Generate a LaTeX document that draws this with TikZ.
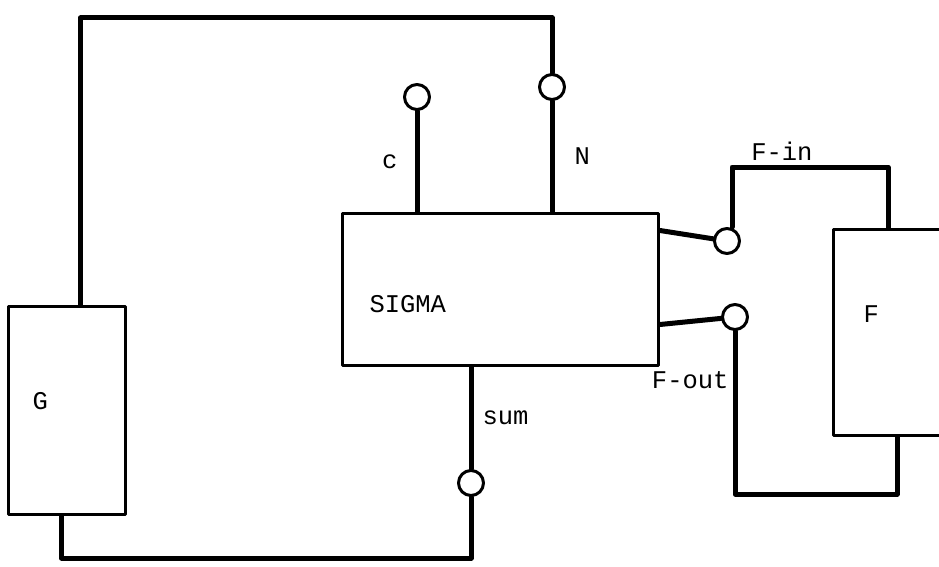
\documentclass[tikz,border=0pt]{standalone}
\usepackage{fontspec}
\setmonofont{Liberation Mono}
\begin{document}
\begin{tikzpicture}[x=1pt, y=-1pt, line join=round, line cap=round, font=\ttfamily\fontsize{25.5}{30}\selectfont]
	\tikzset{blk/.style={draw, line width=3pt, anchor=north west, align=left, inner ysep=0pt},
		port/.style={draw, circle, line width=3pt, minimum size=25pt, inner sep=0pt, fill=white},
		wire/.style={line width=5pt},
		lbl/.style={inner sep=1pt}}
	\useasboundingbox (0,0) rectangle (939,567);
	\clip (0,0) rectangle (939,567);
	% boxes
	\node[blk, minimum width=117pt, minimum height=208pt, inner xsep=24pt, text width=69pt, text height=15pt, text depth=18pt] (G) at (7,305) {G};
	\node[blk, minimum width=316pt, minimum height=152pt, inner xsep=27pt, text width=262pt, text height=45pt, text depth=0pt] (SIGMA) at (341,212) {SIGMA};
	\node[blk, minimum width=170pt, minimum height=206pt, inner xsep=30pt, text width=110pt, text height=0pt, text depth=21pt] (F) at (832,228) {F};
	% ports
	\node[port] (pc) at (417,97) {};
	\node[port] (pN) at (552,87) {};
	\node[port] (pFin) at (727,241) {};
	\node[port] (pFout) at (735,317) {};
	\node[port] (pSum) at (471,483) {};
	\path (300,18) coordinate (top)
	(300,558) coordinate (bot)
	(888,167) coordinate (finTop)
	(735,494) coordinate (foutBot);
	% wires
	\draw[wire] ([xshift=13.5pt]G.north) |- (top) -| (pN);
	\draw[wire] (pc) -- node[lbl, left=16pt] {c} (pc |- SIGMA.north);
	\draw[wire] (pN) -- node[lbl, right=19pt] {N} (pN |- SIGMA.north);
	\draw[wire] ([yshift=59pt]SIGMA.east) -- (pFin);
	\draw[wire] ([yshift=-35pt]SIGMA.east) -- (pFout);
	\draw[wire] ([xshift=5pt]pFin.north) |- node[lbl, pos=.66, above=3pt] {F-in} (finTop) -- (finTop |- F.north);
	\draw[wire] (pFout) -- node[lbl, pos=.3, left=3pt] {F-out} (pFout |- foutBot) -| ([xshift=65pt]F.south west);
	\draw[wire] (pSum |- SIGMA.south) -- node[lbl, right=8pt] {sum} (pSum);
	\draw[wire] (pSum) -- (pSum |- bot) -| ([xshift=-5.5pt]G.south);
\end{tikzpicture}
\end{document}
